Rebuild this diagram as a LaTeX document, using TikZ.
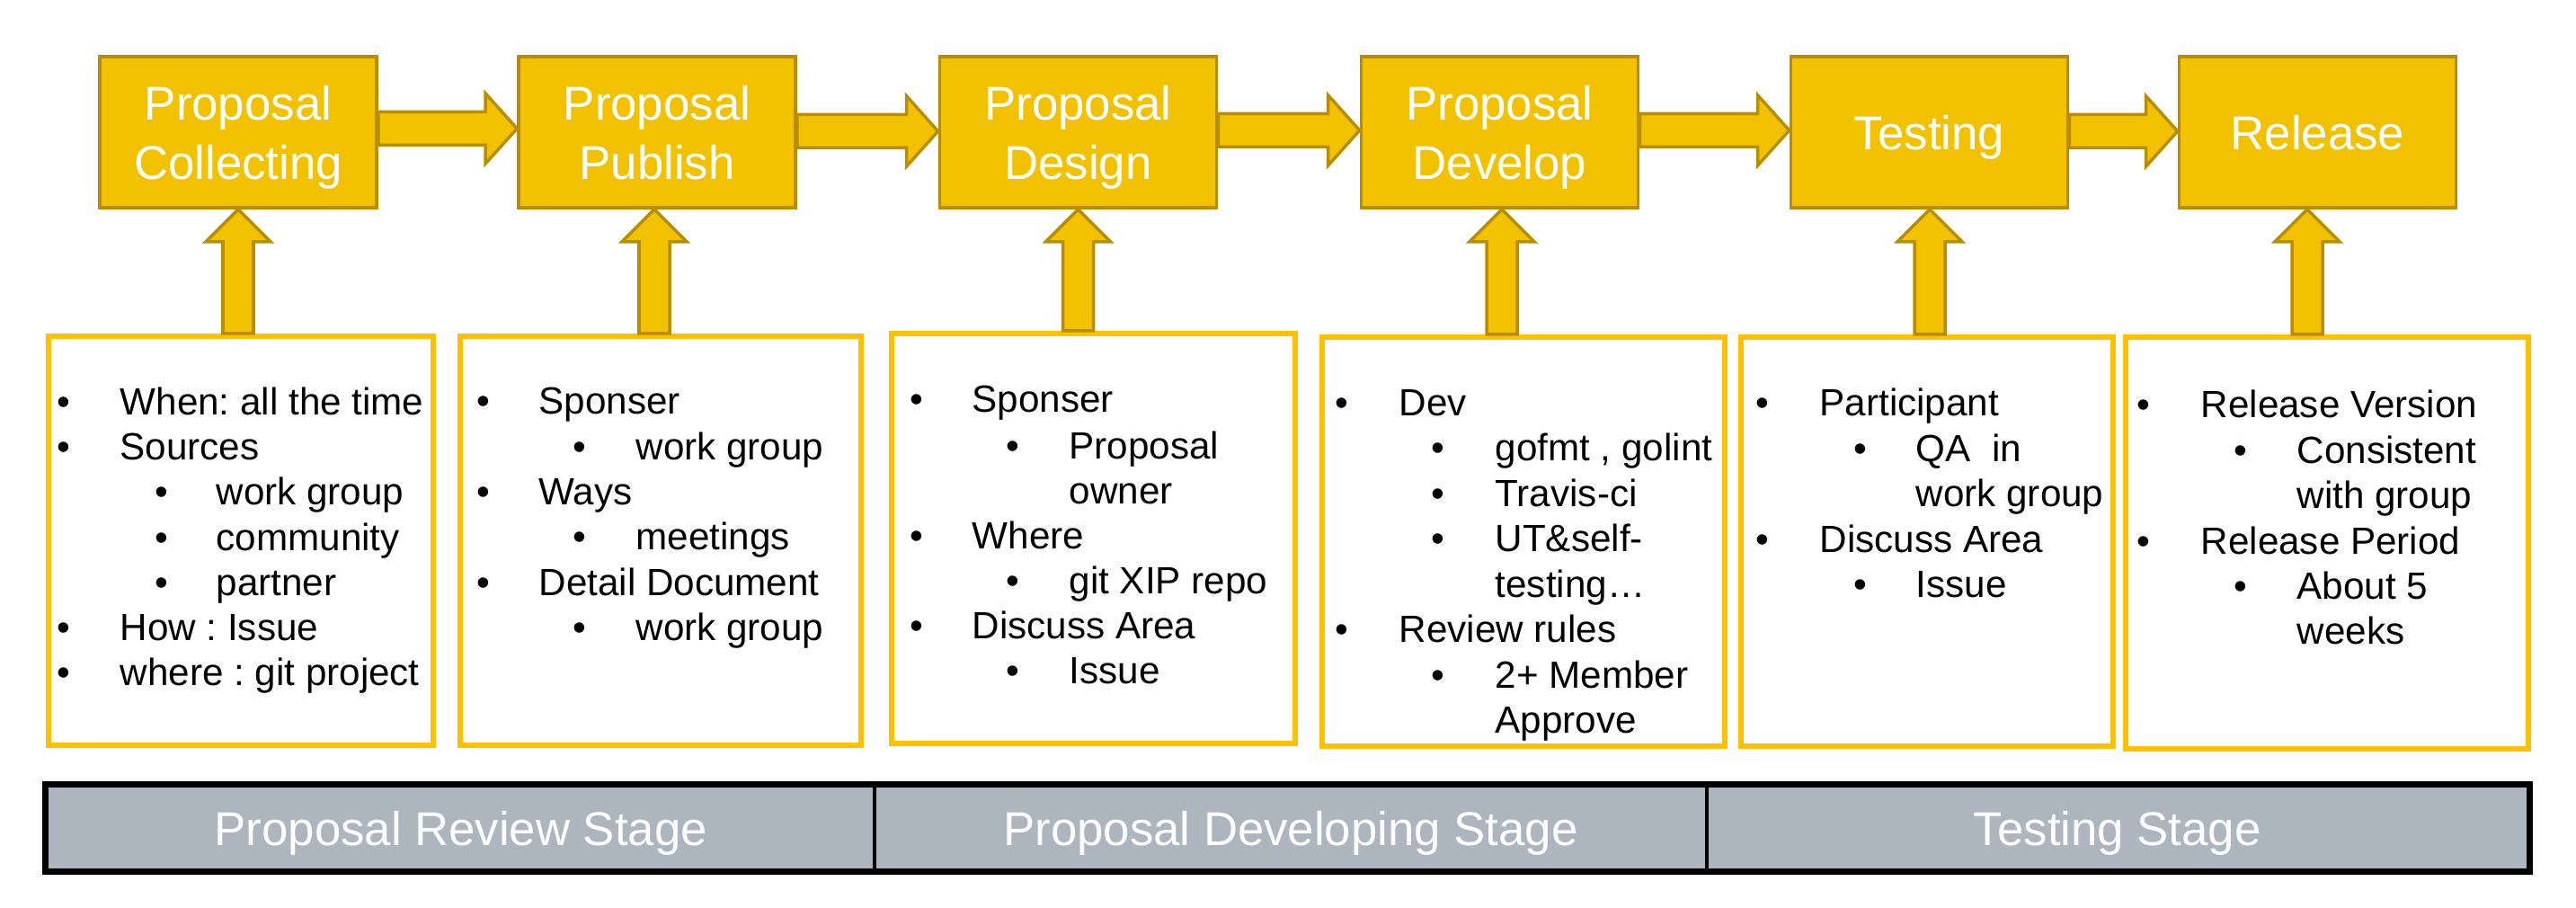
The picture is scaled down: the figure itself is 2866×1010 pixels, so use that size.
\documentclass[tikz,border=0pt]{standalone}
\usepackage{fontspec}
\setmainfont{Liberation Sans}
\usetikzlibrary{calc}
\frenchspacing
\definecolor{gold}{RGB}{242,193,0}
\definecolor{golddark}{RGB}{184,142,0}
\definecolor{boxline}{RGB}{255,192,0}
\definecolor{stagegray}{RGB}{173,181,191}
\newcommand\harr[3]{%
  \draw[blk] ($(#1.east)+(0,#3-18.5)$) -- ($(#2.west)+(-35,#3-18.5)$) -- ($(#2.west)+(-35,#3-39)$) -- ($(#2.west)+(0,#3)$) -- ($(#2.west)+(-35,#3+39)$) -- ($(#2.west)+(-35,#3+18.5)$) -- ($(#1.east)+(0,#3+18.5)$) -- cycle;}
\newcommand\varr[3]{%
  \draw[blk] ($(#2.south |- #1.north)+(#3-17,0)$) -- ($(#2.south)+(#3-17,36)$) -- ($(#2.south)+(#3-36,36)$) -- ($(#2.south)+(#3,0)$) -- ($(#2.south)+(#3+36,36)$) -- ($(#2.south)+(#3+17,36)$) -- ($(#2.south |- #1.north)+(#3+17,0)$) -- cycle;}
\newcommand\bl[5]{\node[bul] (#1b) at (#2,#4) {\textbullet}; \node[itm] (#1) at (#3,#4) {#5};}
\newcommand\cl[4]{\node[itm] (#1) at (#2,#3) {#4};}
\begin{document}
\begin{tikzpicture}[x=0.01cm,y=-0.01cm,
  topbox/.style={draw=golddark, fill=gold, line width=1pt, minimum width=3.08cm, minimum height=1.68cm, inner sep=0pt, text=white, font=\fontsize{15}{18.8}\selectfont, align=center, text depth=0pt},
  listbox/.style={draw=boxline, line width=1.7pt, inner sep=0pt},
  blk/.style={draw=golddark, fill=gold, line width=1pt, line join=miter},
  bul/.style={anchor=base, inner sep=0pt, font=\fontsize{12}{14.2}\selectfont},
  itm/.style={anchor=base west, inner sep=0pt, font=\fontsize{12}{14.2}\selectfont},
  stagebox/.style={fill=stagegray, draw=black, line width=1.2pt, minimum height=0.95cm, inner sep=0pt, text=white, font=\fontsize{15}{18}\selectfont, text depth=0pt}
]
\useasboundingbox (0,0) rectangle (2866,1010);

% top process boxes
\node[topbox] (t1) at (265,147) {Proposal\\Collecting};
\node[topbox] (t2) at (731,147) {Proposal\\Publish};
\node[topbox] (t3) at (1199.5,147) {Proposal\\Design};
\node[topbox] (t4) at (1668.5,147) {Proposal\\Develop};
\node[topbox] (t5) at (2146.5,147) {Testing};
\node[topbox] (t6) at (2578.5,147) {Release};

% bottom list boxes
\node[listbox, minimum width=4.28cm, minimum height=4.55cm] (b1) at (268,601.5) {};
\node[listbox, minimum width=4.46cm, minimum height=4.55cm] (b2) at (735,601.5) {};
\node[listbox, minimum width=4.49cm, minimum height=4.56cm] (b3) at (1216.5,599) {};
\node[listbox, minimum width=4.48cm, minimum height=4.55cm] (b4) at (1695,602.5) {};
\node[listbox, minimum width=4.14cm, minimum height=4.55cm] (b5) at (2144,602.5) {};
\node[listbox, minimum width=4.48cm, minimum height=4.58cm] (b6) at (2589,604) {};

% horizontal block arrows
\harr{t1}{t2}{-4}
\harr{t2}{t3}{-1}
\harr{t3}{t4}{-2}
\harr{t4}{t5}{-2}
\harr{t5}{t6}{-1}

% vertical block arrows
\varr{b1}{t1}{0}
\varr{b2}{t2}{-3}
\varr{b3}{t3}{0}
\varr{b4}{t4}{2.5}
\varr{b5}{t5}{0.5}
\varr{b6}{t6}{-11.5}

% box 1
\bl{a1}{71}{133}{462}{When: all the time}
\bl{a2}{71}{133}{512}{Sources}
\bl{a3}{180}{240}{562}{work group}
\bl{a4}{180}{240}{613}{community}
\bl{a5}{180}{240}{663}{partner}
\bl{a6}{71}{133}{713}{How : Issue}
\bl{a7}{71}{133}{763}{where : git project}

% box 2
\bl{c1}{538}{599}{461}{Sponser}
\bl{c2}{645}{707}{512}{work group}
\bl{c3}{538}{599}{562}{Ways}
\bl{c4}{645}{707}{612}{meetings}
\bl{c5}{538}{599}{663}{Detail Document}
\bl{c6}{645}{707}{713}{work group}

% box 3
\bl{d1}{1020}{1081}{459}{Sponser}
\bl{d2}{1127}{1189}{511}{Proposal}
\cl{d3}{1189}{561}{owner}
\bl{d4}{1020}{1081}{611}{Where}
\bl{d5}{1127}{1189}{661}{git XIP repo}
\bl{d6}{1020}{1081}{711}{Discuss Area}
\bl{d7}{1127}{1189}{761}{Issue}

% box 4
\bl{e1}{1493}{1556}{463}{Dev}
\bl{e2}{1600}{1663}{513}{gofmt , golint}
\bl{e3}{1600}{1663}{564}{Travis-ci}
\bl{e4}{1600}{1663}{614}{UT\&self-}
\cl{e5}{1663}{665}{testing…}
\bl{e6}{1493}{1556}{715}{Review rules}
\bl{e7}{1600}{1663}{766}{2+ Member}
\cl{e8}{1663}{816}{Approve}

% box 5
\bl{f1}{1961}{2024}{463}{Participant}
\bl{f2}{2070}{2131}{514}{QA~ in}
\cl{f3}{2131}{564}{work group}
\bl{f4}{1961}{2024}{615}{Discuss Area}
\bl{f5}{2070}{2131}{665}{Issue}

% box 6
\bl{g1}{2385}{2448}{465}{Release Version}
\bl{g2}{2493}{2555}{516}{Consistent}
\cl{g3}{2555}{566}{with group}
\bl{g4}{2385}{2448}{617}{Release Period}
\bl{g5}{2493}{2555}{667}{About 5}
\cl{g6}{2555}{717}{weeks}

% stage bar
\node[stagebox, minimum width=9.205cm] (s1) at (512.75,921) {Proposal Review Stage};
\node[stagebox, minimum width=9.26cm] (s2) at (1436,921) {Proposal Developing Stage};
\node[stagebox, minimum width=9.135cm] (s3) at (2355.75,921) {Testing Stage};
\draw[line width=1.5pt] (s1.north west) rectangle (s3.south east);
\end{tikzpicture}
\end{document}
